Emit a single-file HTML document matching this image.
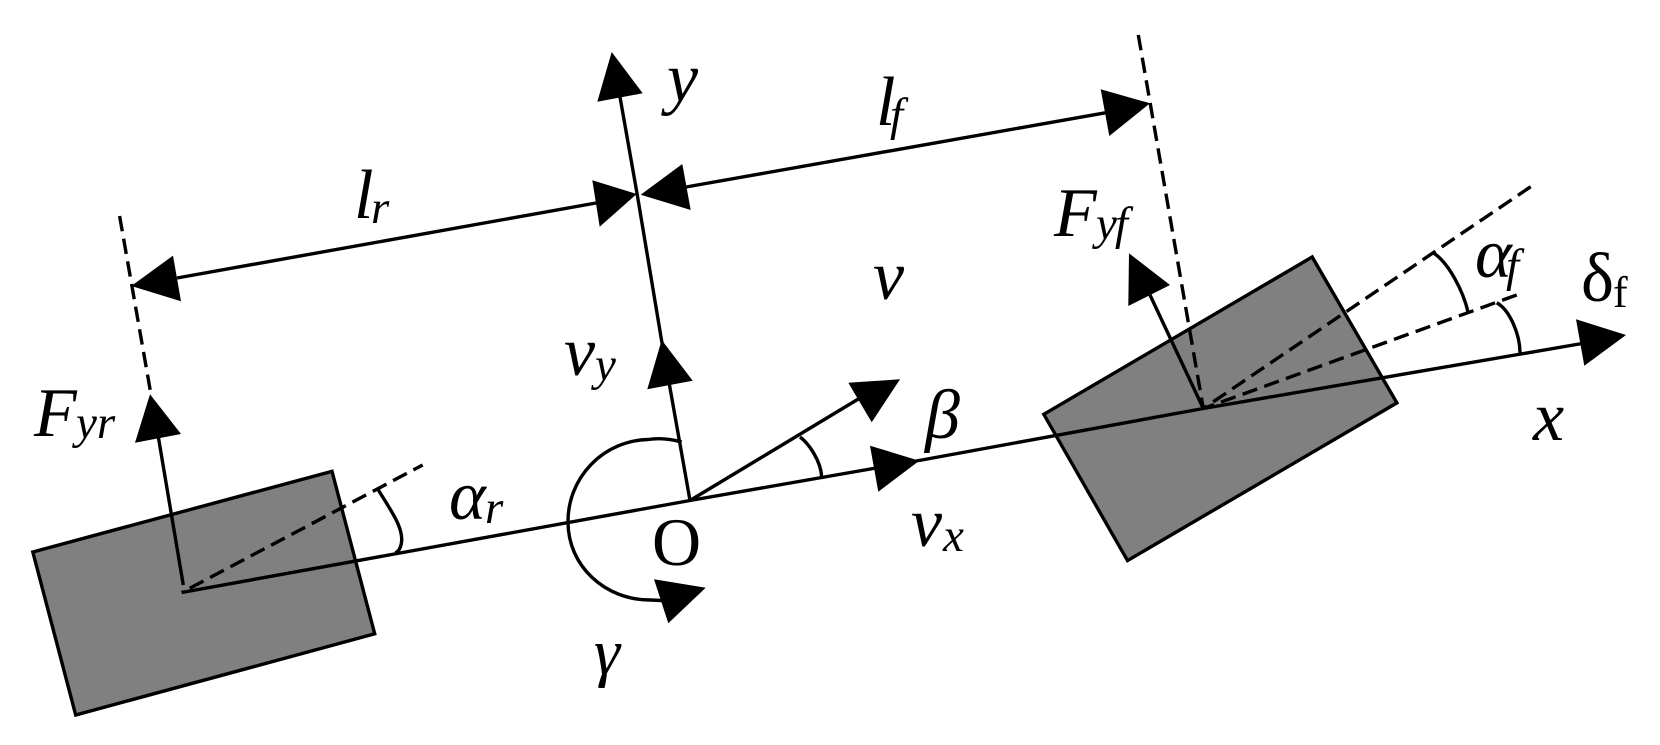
<!DOCTYPE html>
<html><head><meta charset="utf-8"><style>
html,body{margin:0;padding:0;background:#fff}
svg{display:block}
text{font-family:"Liberation Serif",serif;font-style:italic;fill:#000}
.b{font-size:70px}.s{font-size:47px}
.l{fill:none;stroke:#000;stroke-width:3.4}
.d{fill:none;stroke:#000;stroke-width:3.4;stroke-dasharray:15.5 7.5}
</style></head><body>
<svg width="1660" height="745" viewBox="0 0 1660 745" xmlns="http://www.w3.org/2000/svg">
<rect width="1660" height="745" fill="#fff"/>
<polygon points="32.8,552 332,471.3 374.7,633.8 75.7,715" fill="#808080" stroke="#000" stroke-width="3.4"/>
<polygon points="1043.8,414.3 1312.2,257 1396.9,402.9 1127.5,560.6" fill="#808080" stroke="#000" stroke-width="3.4"/>
<path class="l" d="M181.7,592.5 L690,500.5 L919,460.5 L1203.3,408.5 L1585,343"/>
<path class="l" d="M690,500.5 L661.5,340 L637.3,195 L620,97"/>
<path class="l" d="M177,278 L596,203"/>
<path class="l" d="M686,187 L1106,112.7"/>
<path class="l" d="M183.3,585 L158,435"/>
<path class="l" d="M690,500.5 L860,398"/>
<path class="l" d="M1203.3,408.5 L1150,295"/>
<path class="d" d="M119.6,216 L150.9,394"/>
<path class="d" stroke-dashoffset="5" d="M422.7,465 L181.7,592.5"/>
<path class="d" d="M1138.3,35 L1203.3,408.5"/>
<path class="d" d="M1530.7,186.7 L1203.3,408.5"/>
<path class="d" d="M1516.7,295 L1203.3,408.5"/>
<path class="l" d="M681.7,442 Q664,437 648,439.5 A82,82 0 0 0 568,522 C568,566 605,600 650,600 L662,600.5"/>
<path class="l" d="M378.3,490 C392,512 405,530 401,545 Q399,552 395,553"/>
<path class="l" d="M800,437 C808,443 821,460 821.7,477.5"/>
<path class="l" d="M1433,252.7 C1448,262 1463,290 1468.3,313"/>
<path class="l" d="M1496.7,302.7 C1510,310 1520,335 1520,352.7"/>
<g fill="#000">
<polygon points="611.7,52 642.7,93.3 597.3,101.7"/>
<polygon points="661.7,340 692.7,380.7 647.3,389.3"/>
<polygon points="131.3,286 173,255.6 181,301.2"/>
<polygon points="636.7,194 592.3,180.3 599.7,226.7"/>
<polygon points="640.7,194.7 682.3,164 690.7,210"/>
<polygon points="1150,103.3 1100.7,89.3 1109.3,136"/>
<polygon points="150,394.3 181,434 135,442.7"/>
<polygon points="870,445.7 919.3,460.7 878.3,491.7"/>
<polygon points="1576,319.3 1626,335 1584.3,365.7"/>
<polygon points="848.3,382.7 900,379.3 871.7,422.3"/>
<polygon points="1129,253.3 1170,285 1128.3,306"/>
<polygon points="654,579.3 705.7,587.7 668.3,623.3"/>
</g>
<text class="b" x="34" y="436">F</text><text class="s" x="76" y="438">yr</text>
<text class="b" x="667" y="101">y</text>
<text class="b" x="354" y="218">l</text><text class="s" x="371" y="223">r</text>
<text class="b" x="876" y="125">l</text><text class="s" x="890" y="130">f</text>
<text class="b" x="873" y="299">v</text>
<text class="b" x="564" y="375">v</text><text class="s" x="595" y="380">y</text>
<text class="b" x="449" y="519">α</text><text class="s" x="485" y="523">r</text>
<text x="652" y="565" style="font-size:68px;font-style:normal">O</text>
<text x="594" y="674" style="font-size:66px">γ</text>
<text class="b" x="925" y="438">β</text>
<text class="b" x="911" y="546">v</text><text class="s" x="943" y="551">x</text>
<text class="b" x="1054" y="236">F</text><text class="s" x="1096" y="239" letter-spacing="-2">yf</text>
<text class="b" x="1475" y="277">α</text><text class="s" x="1506" y="281">f</text>
<text x="1581" y="301" style="font-size:70px;font-style:normal">δ</text><text x="1613" y="307" style="font-size:44px;font-style:normal">f</text>
<text class="b" x="1533" y="440">x</text>
</svg>
</body></html>
